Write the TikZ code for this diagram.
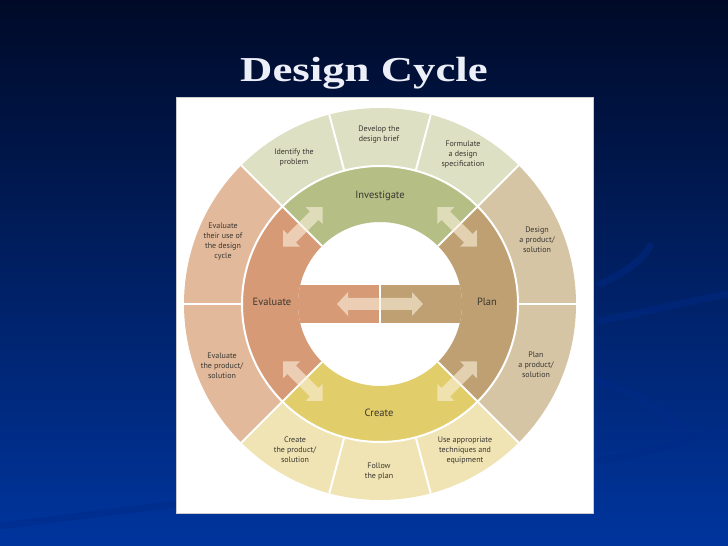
\documentclass[tikz,border=0pt]{standalone}
\usepackage{fontspec}
\setmainfont{Liberation Serif}
\newfontfamily\lblfont{PT Sans}
\usetikzlibrary{calc}
\definecolor{bgtop}{HTML}{000A28}
\definecolor{bgmid}{HTML}{00257A}
\definecolor{bgbot}{HTML}{00359E}
\definecolor{swoosh}{HTML}{002A88}
\definecolor{invc}{HTML}{B5BF85}
\definecolor{planc}{HTML}{BEA072}
\definecolor{createc}{HTML}{E2CD6B}
\definecolor{evalc}{HTML}{D69B76}
\definecolor{otop}{HTML}{DEE0C3}
\definecolor{oright}{HTML}{D5C5A5}
\definecolor{obottom}{HTML}{F0E4B4}
\definecolor{oleft}{HTML}{E2BA9B}
\definecolor{arrowc}{HTML}{FAF0DC}
\definecolor{txt}{HTML}{3A3630}
\definecolor{titlec}{HTML}{ECEEF8}
\newcommand\ringsector[5]{\fill[#1] ($(C)+(#2:#5)$) arc[start angle=#2,end angle=#3,radius=#5] -- ($(C)+(#3:#4)$) arc[start angle=#3,end angle=#2,radius=#4] -- cycle;}
\tikzset{
  sep/.style={white, line width=2pt},
  outerlbl/.style={font=\lblfont\fontsize{8}{10}\selectfont, text=txt, align=center, inner sep=0pt},
  midlbl/.style={font=\lblfont\fontsize{10.5}{12}\selectfont, text=txt, inner sep=0pt},
  blockarrow/.style={fill=arrowc, fill opacity=0.6},
  swooshline/.style={swoosh, line width=7pt, opacity=0.45, line cap=round}
}
\begin{document}
\begin{tikzpicture}[x=1pt,y=1pt]
\useasboundingbox (0,0) rectangle (728,546);
% background
\shade[top color=bgtop, middle color=bgmid, bottom color=bgbot] (0,0) rectangle (728,546);
\draw[swooshline] (600,262) .. controls (630,275) and (645,290) .. (650,300);
\draw[swooshline] (600,225) .. controls (650,235) and (690,245) .. (728,252);
\draw[swooshline] (598,165) .. controls (630,155) and (660,140) .. (690,110);
\draw[swooshline] (598,85) .. controls (640,92) and (690,105) .. (728,118);
\draw[swooshline] (0,20) .. controls (80,30) and (160,40) .. (176,42);
% title
\node[font=\bfseries\fontsize{35}{35}\selectfont, text=titlec, xscale=1.28, anchor=base, inner sep=0pt] (title) at (364,464) {Design Cycle};
% white panel
\fill[white] (176,33) rectangle (593,449);
\draw[gray!40, line width=0.6pt] (176,33) rectangle (593,449);
\coordinate (C) at (380,242);
% outer ring
\ringsector{otop}{45}{135}{138}{196}
\ringsector{oleft}{135}{225}{138}{196}
\ringsector{obottom}{225}{315}{138}{196}
\ringsector{oright}{-45}{45}{138}{196}
% middle ring
\ringsector{invc}{45}{135}{82}{138}
\ringsector{evalc}{135}{225}{82}{138}
\ringsector{createc}{225}{315}{82}{138}
\ringsector{planc}{-45}{45}{82}{138}
% central bar
\begin{scope}
  \clip (C) circle (82);
  \fill[evalc] ($(C)+(-90,-19)$) rectangle ($(C)+(0,19)$);
  \fill[planc] ($(C)+(0,-19)$) rectangle ($(C)+(90,19)$);
\end{scope}
\draw[white, line width=1.5pt] ($(C)+(0,-19)$) -- ($(C)+(0,19)$);
% separators
\foreach \a in {0,45,75,105,135,180,225,255,285,315}
  \draw[sep] ($(C)+(\a:138)$) -- ($(C)+(\a:196)$);
\foreach \a in {45,135,225,315}
  \draw[sep] ($(C)+(\a:82)$) -- ($(C)+(\a:138)$);
\draw[sep] (C) circle (138);
% diagonal double arrows
\foreach \a in {45,135,225,315}{
  \begin{scope}[shift={(C)}, rotate=\a, shift={(109,0)}]
    \fill[blockarrow] (-6,-16) -- (-6,16) -- (-12,16) -- (0,28) -- (12,16) -- (6,16) -- (6,-16) -- (12,-16) -- (0,-28) -- (-12,-16) -- cycle;
  \end{scope}
}
% central double arrow
\begin{scope}[shift={(C)}]
  \fill[blockarrow] (-32,-6) -- (32,-6) -- (32,-12) -- (43,0) -- (32,12) -- (32,6) -- (-32,6) -- (-32,12) -- (-43,0) -- (-32,-12) -- cycle;
\end{scope}
% middle labels
\node[midlbl] (investigate) at (380,350) {Investigate};
\node[midlbl] (plan) at (487,244) {Plan};
\node[midlbl] (create) at (379,133) {Create};
\node[midlbl] (evaluate) at (272,244) {Evaluate};
% outer labels
\node[outerlbl] (identify) at (294,389) {Identify the\\problem};
\node[outerlbl] (develop) at (379,411) {Develop the\\design brief};
\node[outerlbl] (formulate) at (463,391) {Formulate\\a design\\specification};
\node[outerlbl] (design) at (537,306) {Design\\a product/\\solution};
\node[outerlbl] (planprod) at (536,181) {Plan\\a product/\\solution};
\node[outerlbl] (useapp) at (465,96) {Use appropriate\\techniques and\\equipment};
\node[outerlbl] (follow) at (379,74) {Follow\\the plan};
\node[outerlbl] (createprod) at (295,96) {Create\\the product/\\solution};
\node[outerlbl] (evalprod) at (222,180) {Evaluate\\the product/\\solution};
\node[outerlbl] (evaluse) at (223,304) {Evaluate\\their use of\\the design\\cycle};
\end{tikzpicture}
\end{document}
